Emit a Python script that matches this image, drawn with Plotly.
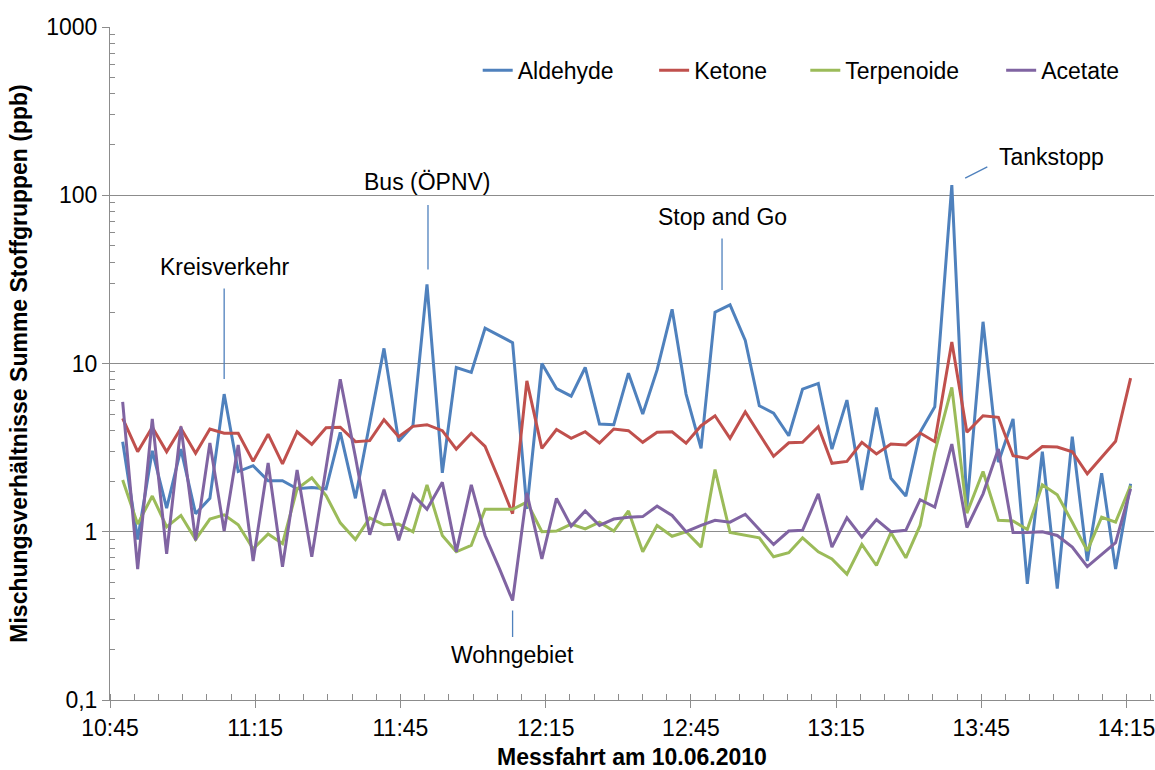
import numpy as np
import plotly.graph_objects as go

# Messfahrt am 10.06.2010 - Summen der Stoffgruppen (ppb), ca. alle 3 Minuten
DAY = "2010-06-10 "
times = [
    "10:47:37", "10:50:43", "10:53:44", "10:56:42", "10:59:39", "11:02:41", "11:05:38", "11:08:35",
    "11:11:29", "11:14:34", "11:17:40", "11:20:38", "11:23:39", "11:26:41", "11:29:38", "11:32:34",
    "11:35:42", "11:38:39", "11:41:36", "11:44:38", "11:47:35", "11:50:29", "11:53:39", "11:56:32",
    "11:59:38", "12:02:29", "12:05:23", "12:08:10", "12:11:07", "12:14:13", "12:17:14", "12:20:16",
    "12:23:10", "12:26:07", "12:29:04", "12:32:06", "12:35:03", "12:38:01", "12:41:07", "12:44:00",
    "12:47:06", "12:49:59", "12:53:05", "12:56:14", "12:59:08", "13:02:05", "13:05:13", "13:08:04",
    "13:11:19", "13:14:08", "13:17:14", "13:20:19", "13:23:20", "13:26:19", "13:29:24", "13:32:21",
    "13:35:23", "13:38:54", "13:42:01", "13:45:21", "13:48:31", "13:51:33", "13:54:30", "13:57:36",
    "14:00:41", "14:03:47", "14:06:53", "14:09:51", "14:12:44", "14:15:50",
]

aldehyde = [
    3.43, 0.90, 3.03, 1.38, 3.10, 1.28, 1.58, 6.58, 2.28, 2.47, 2.01, 2.01, 1.80, 1.83, 1.80, 3.90,
    1.58, 4.40, 12.3, 3.45, 4.27, 29.5, 2.24, 9.47, 8.85, 16.2, 14.7, 13.3, 1.37, 10.0, 7.10, 6.40,
    9.47, 4.37, 4.33, 8.76, 5.01, 9.16, 21.0, 6.58, 3.13, 20.2, 22.3, 13.7, 5.61, 5.07, 3.72, 7.04,
    7.61, 3.10, 6.06, 1.77, 5.48, 2.08, 1.63, 3.90, 5.53, 115.0, 1.40, 17.7, 2.59, 4.68, 0.49, 2.99,
    0.46, 3.67, 0.67, 2.23, 0.60, 1.93,
]
ketone = [
    4.72, 2.99, 4.18, 2.99, 4.12, 2.93, 4.08, 3.85, 3.85, 2.62, 3.80, 2.53, 3.93, 3.31, 4.15, 4.18,
    3.43, 3.48, 4.63, 3.67, 4.23, 4.33, 3.99, 3.10, 3.85, 3.22, 2.03, 1.28, 7.88, 3.13, 4.05, 3.59,
    3.93, 3.37, 4.08, 3.99, 3.40, 3.90, 3.93, 3.36, 4.27, 4.89, 3.59, 5.16, 3.81, 2.81, 3.38, 3.40,
    4.21, 2.55, 2.62, 3.40, 2.90, 3.32, 3.28, 3.86, 3.43, 13.4, 3.90, 4.89, 4.79, 2.83, 2.73, 3.21,
    3.19, 2.99, 2.21, 2.76, 3.45, 8.18,
]
terpenoide = [
    2.03, 1.11, 1.63, 1.07, 1.25, 0.90, 1.19, 1.26, 1.10, 0.79, 0.97, 0.85, 1.80, 2.09, 1.64, 1.13,
    0.90, 1.21, 1.10, 1.11, 1.00, 1.90, 0.95, 0.76, 0.83, 1.36, 1.36, 1.36, 1.50, 1.00, 1.01, 1.11,
    1.04, 1.14, 1.01, 1.33, 0.76, 1.09, 0.94, 1.00, 0.81, 2.34, 0.99, 0.95, 0.92, 0.71, 0.75, 0.92,
    0.76, 0.69, 0.56, 0.84, 0.63, 0.99, 0.70, 1.09, 2.97, 7.21, 1.29, 2.28, 1.17, 1.16, 1.03, 1.90,
    1.66, 1.14, 0.77, 1.22, 1.14, 1.88,
]
acetate = [
    5.92, 0.60, 4.68, 0.74, 4.23, 0.89, 3.37, 1.01, 3.28, 0.67, 2.56, 0.62, 2.33, 0.71, 2.40, 8.07,
    2.78, 0.96, 1.78, 0.89, 1.66, 1.36, 1.97, 0.76, 1.90, 0.95, 0.61, 0.39, 1.70, 0.69, 1.58, 1.08,
    1.33, 1.09, 1.19, 1.22, 1.23, 1.42, 1.25, 1.00, 1.09, 1.17, 1.14, 1.27, 1.03, 0.84, 1.01, 1.02,
    1.68, 0.81, 1.21, 0.93, 1.18, 1.00, 1.02, 1.55, 1.40, 3.32, 1.06, 1.68, 3.10, 0.99, 0.99, 1.00,
    0.95, 0.81, 0.62, 0.73, 0.86, 1.80,
]

y_tickvals = [0.1, 1, 10, 100, 1000]
y_ticktext = ["0,1", "1", "10", "100", "1000"]

x = [DAY + t for t in times]

FONT = "Liberation Sans, Arial, sans-serif"
TXT = "#000000"
GREY = "#8C8C8C"
FS = 23

series = [
    ("Aldehyde", aldehyde, "#4F81BD"),
    ("Ketone", ketone, "#C0504D"),
    ("Terpenoide", terpenoide, "#9BBB59"),
    ("Acetate", acetate, "#8064A2"),
]
legend_ids = ["legend", "legend2", "legend3", "legend4"]
legend_x = [0.3522, 0.5212, 0.6660, 0.8536]

fig = go.Figure()
for (name, vals, col), lid in zip(series, legend_ids):
    fig.add_trace(go.Scatter(
        x=x, y=vals, name=name, mode="lines",
        line=dict(color=col, width=3),
        legend=lid, showlegend=True,
    ))

legend_layout = {}
for lid, lx in zip(legend_ids, legend_x):
    legend_layout[lid] = dict(
        x=lx, y=0.9355, xanchor="left", yanchor="middle",
        orientation="h", bgcolor="rgba(0,0,0,0)", borderwidth=0,
        font=dict(family=FONT, size=FS, color=TXT),
        visible=True,
    )

# Ereignis-Beschriftungen mit Führungslinien
LEAD = "#4F81BD"
events = [
    # text, series values, index, ay, standoff, startstandoff, xshift
    ("Kreisverkehr", aldehyde, 7, -127, 15, 7, 0),
    ("Bus (ÖPNV)", aldehyde, 21, -102, 15, 8, 1),
    ("Stop and Go", aldehyde, 42, -88, 15, 7, -8),
    ("Wohngebiet", acetate, 27, 54, 10, 3, 0),
]
annotations = []
for text, vals, i, ay, so, sso, xs in events:
    annotations.append(dict(
        x=x[i], y=np.log10(vals[i]), xref="x", yref="y",
        text=text, showarrow=True, arrowhead=0, arrowwidth=1.3, arrowcolor=LEAD,
        ax=0, ay=ay, standoff=so, startstandoff=sso, xshift=xs,
        font=dict(family=FONT, size=FS, color=TXT),
    ))

# Tankstopp: Text rechts oberhalb der Spitze, schräge Führungslinie
i_tank = 57
annotations.append(dict(
    x=x[i_tank], y=np.log10(aldehyde[i_tank]), xref="x", yref="y",
    text="Tankstopp", showarrow=False, xshift=100, yshift=28,
    font=dict(family=FONT, size=FS, color=TXT),
))
annotations.append(dict(
    x=x[i_tank], y=np.log10(aldehyde[i_tank]), xref="x", yref="y",
    text="", showarrow=True, arrowhead=0, arrowwidth=1.3, arrowcolor=LEAD,
    ax=37, ay=-19, standoff=15,
    font=dict(family=FONT, size=1, color=TXT),
))

# Nebenstriche der log-Achse: 2..9 in jeder Dekade
y_minor = [m * 10.0 ** e for e in range(-1, 3) for m in range(2, 10)]

fig.update_layout(
    width=1155, height=770,
    margin=dict(l=110, r=0, t=27, b=68),
    paper_bgcolor="white", plot_bgcolor="white",
    font=dict(family=FONT, size=FS, color=TXT),
    showlegend=True,
    annotations=annotations,
    **legend_layout,
)

fig.update_xaxes(
    type="date",
    range=[DAY + "10:45:00", DAY + "14:20:40"],
    tick0=DAY + "10:45:00", dtick=1800000, tickformat="%H:%M",
    showgrid=False, zeroline=False,
    showline=True, linecolor=GREY, linewidth=1,
    ticks="outside", ticklen=7, tickcolor=GREY, tickwidth=1,
    ticklabeloverflow="allow",
    tickfont=dict(family=FONT, size=FS, color=TXT),
    minor=dict(tick0=DAY + "10:45:00", dtick=300000, ticks="inside",
               ticklen=6, tickcolor=GREY, tickwidth=1, showgrid=False),
    title=dict(text="<b>Messfahrt am 10.06.2010</b>",
               font=dict(family=FONT, size=FS, color=TXT), standoff=13),
)

fig.update_yaxes(
    type="log", range=[-1, 3],
    tickmode="array", tickvals=y_tickvals, ticktext=y_ticktext,
    showgrid=True, gridcolor=GREY, gridwidth=1, zeroline=False,
    showline=True, linecolor=GREY, linewidth=1,
    ticks="outside", ticklen=7, tickcolor=GREY, tickwidth=1,
    tickfont=dict(family=FONT, size=FS, color=TXT),
    minor=dict(tickmode="array", tickvals=y_minor, ticks="inside", ticklen=5,
               tickcolor=GREY, tickwidth=1, showgrid=False),
    title=dict(text="<b>Mischungsverhältnisse Summe Stoffgruppen (ppb)</b>",
               font=dict(family=FONT, size=FS, color=TXT), standoff=12),
)

fig.write_html("out.html")
